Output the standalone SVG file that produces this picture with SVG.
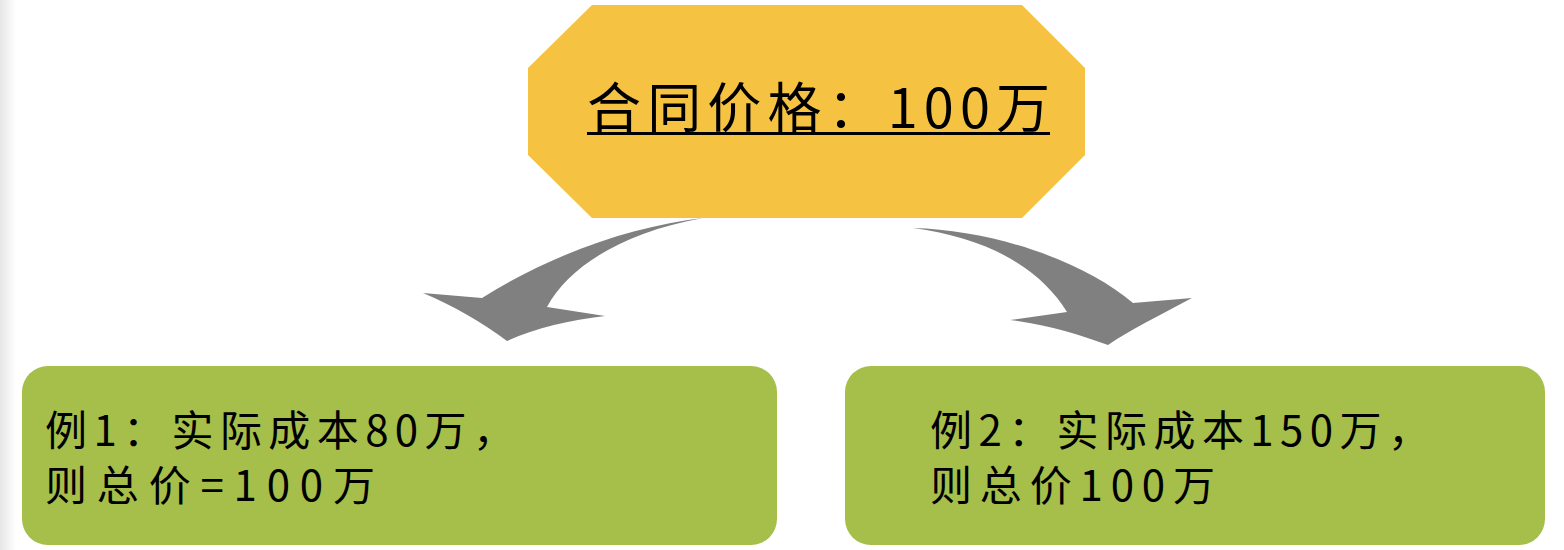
<svg xmlns="http://www.w3.org/2000/svg" width="1564" height="550" viewBox="0 0 1564 550">
  <defs>
    <linearGradient id="edge" x1="0" y1="0" x2="1" y2="0">
      <stop offset="0" stop-color="#e6e6e6"/>
      <stop offset="1" stop-color="#ffffff"/>
    </linearGradient>
  </defs>
  <style>
    .t { font-family: "Noto Sans CJK SC", "Noto Sans", sans-serif; fill: #000; }
    .box { fill: #A6BE4A; }
    .arrow { fill: #808080; }
  </style>
  <rect x="0" y="0" width="1564" height="550" fill="#ffffff"/>
  <rect x="0" y="0" width="16" height="550" fill="url(#edge)"/>

  <g id="connectors">
    <path class="arrow" d="M 703,218 C 635,226 555,252 482,298 L 423,293 C 452,305 482,322 507,341 C 535,328 570,320 605,316 L 547,307 C 568,268 620,233 703,218 Z"/>
    <path class="arrow" d="M 913,228 C 995,230 1085,262 1133,303 L 1192,298 C 1160,315 1130,330 1108,345 C 1080,335 1050,325 1010,320 L 1067,312 C 1040,268 988,238 913,228 Z"/>
  </g>

  <g id="contract">
    <polygon points="592,5 1022,5 1085,68 1085,155 1022,218 592,218 528,155 528,68" fill="#F5C242"/>
    <text class="t" x="587" y="128" font-size="54" textLength="463" lengthAdjust="spacing">合同价格：100万</text>
    <line x1="587" y1="133.5" x2="1050" y2="133.5" stroke="#000" stroke-width="3"/>
  </g>

  <g id="example1">
    <rect class="box" x="22" y="366" width="755" height="179" rx="26" ry="26"/>
    <text class="t" x="45" y="446" font-size="42" textLength="470" lengthAdjust="spacing">例1：实际成本80万，</text>
    <text class="t" x="45" y="501" font-size="42" textLength="330" lengthAdjust="spacing">则总价=100万</text>
  </g>

  <g id="example2">
    <rect class="box" x="845" y="366" width="700" height="179" rx="26" ry="26"/>
    <text class="t" x="930" y="446" font-size="42" textLength="500" lengthAdjust="spacing">例2：实际成本150万，</text>
    <text class="t" x="930" y="501" font-size="42" textLength="285" lengthAdjust="spacing">则总价100万</text>
  </g>
</svg>
